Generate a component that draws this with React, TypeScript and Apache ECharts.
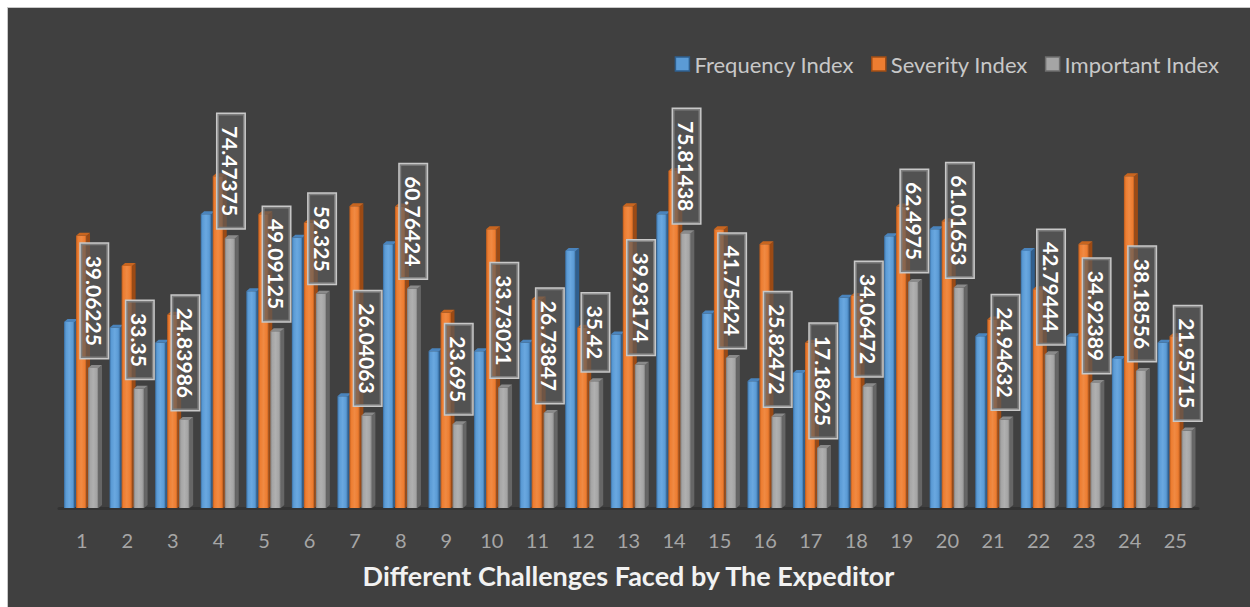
import React, { useEffect, useRef } from "react";
import * as echarts from "echarts";

const categories = ["1","2","3","4","5","6","7","8","9","10","11","12","13","14","15","16","17","18","19","20","21","22","23","24","25"];
const frequencyIndex = [51.6, 50.0, 45.9, 81.0, 60.0, 74.6, 31.3, 72.8, 43.6, 43.6, 45.9, 71.0, 48.2, 81.0, 53.9, 35.4, 37.7, 58.2, 75.0, 76.9, 47.7, 71.0, 47.7, 41.5, 45.9];
const severityIndex = [75.1, 66.9, 53.6, 91.4, 81.0, 78.7, 83.2, 83.1, 54.1, 76.9, 57.7, 50.0, 83.2, 92.8, 76.9, 72.8, 45.9, 58.7, 83.1, 79.1, 52.3, 60.5, 72.8, 91.4, 47.7];
const importantIndex = [39.06225, 33.35, 24.83986, 74.47375, 49.09125, 59.325, 26.04063, 60.76424, 23.695, 33.73021, 26.73847, 35.42, 39.93174, 75.81438, 41.75424, 25.82472, 17.18625, 34.06472, 62.4975, 61.01653, 24.94632, 42.79444, 34.92389, 38.18556, 21.95715];
const seriesNames = ["Frequency Index", "Severity Index", "Important Index"];
const axisTitle = "Different Challenges Faced by The Expeditor";

const palettes = [
  { main: "#5b9bd5", light: "#6aa8e0", dark: "#3a6fa3", side: "#2f5f8f", top: "#4a84bd", legendBorder: "#2e5f8e" },
  { main: "#ed7d31", light: "#f08a43", dark: "#b85a1c", side: "#9c4a14", top: "#c8651f", legendBorder: "#a14d15" },
  { main: "#a5a5a5", light: "#b0b0b0", dark: "#7c7c7c", side: "#666666", top: "#8a8a8a", legendBorder: "#6e6e6e" },
];
const offsets = [-12.5, -0.5, 11.5];
const FACE_W = 10.5;
const DEPTH_X = 3.5;
const DEPTH_Y = 3;

function bar3D(p: any, offset: number) {
  return (params: any, api: any) => {
    const idx = api.value(0);
    const v = api.value(1);
    const base = api.coord([idx, 0]);
    const top = api.coord([idx, v]);
    const cx = base[0] + offset;
    const x0 = cx - FACE_W / 2;
    const x1 = cx + FACE_W / 2;
    const yTop = top[1] + DEPTH_Y;
    const yBot = base[1];
    return {
      type: "group",
      children: [
        {
          type: "polygon",
          shape: { points: [[x1, yTop], [x1 + DEPTH_X, yTop - DEPTH_Y], [x1 + DEPTH_X, yBot - DEPTH_Y], [x1, yBot]] },
          style: { fill: p.side },
        },
        {
          type: "rect",
          shape: { x: x0, y: yTop, width: FACE_W, height: yBot - yTop },
          style: {
            fill: {
              type: "linear", x: 0, y: 0, x2: 1, y2: 0,
              colorStops: [
                { offset: 0, color: p.dark },
                { offset: 0.18, color: p.main },
                { offset: 0.5, color: p.light },
                { offset: 0.82, color: p.main },
                { offset: 1, color: p.dark },
              ],
            },
          },
        },
        {
          type: "polygon",
          shape: { points: [[x0, yTop], [x0 + DEPTH_X, yTop - DEPTH_Y], [x1 + DEPTH_X, yTop - DEPTH_Y], [x1, yTop]] },
          style: { fill: p.top },
        },
      ],
    };
  };
}

function labelItem(params: any, api: any) {
  const idx = api.value(0);
  const v = api.value(1);
  const top = api.coord([idx, v]);
  const cx = top[0] + offsets[2] + 1;
  return {
    type: "text",
    x: cx,
    y: top[1] - 7,
    rotation: -Math.PI / 2,
    style: {
      text: String(importantIndex[idx]),
      fill: "#ffffff",
      font: "bold 21px Lato",
      align: "right",
      verticalAlign: "middle",
      backgroundColor: "rgba(92,92,92,0.68)",
      borderColor: "#c8c8c8",
      borderWidth: 1.5,
      padding: [3, 12, 3, 12],
      boxShadowBlur: 10,
      boxShadowColor: "rgba(0,0,0,0.45)",
      boxShadowOffsetX: 3,
      boxShadowOffsetY: 3,
    },
  };
}

export default function App() {
  const ref = useRef<HTMLDivElement>(null);
  useEffect(() => {
    if (!ref.current) return;
    const chart = echarts.init(ref.current, undefined, { renderer: "svg" });
    const valueSets = [frequencyIndex, severityIndex, importantIndex];
    const series: any[] = seriesNames.map((name, i) => ({
      type: "custom",
      name,
      renderItem: bar3D(palettes[i], offsets[i]),
      itemStyle: { color: palettes[i].main },
      data: valueSets[i].map((v, k) => [k, v]),
      z: 2,
    }));
    series.push({
      type: "custom",
      name: "labels",
      renderItem: labelItem,
      data: importantIndex.map((v, k) => [k, v]),
      z: 10,
      silent: true,
    });
    chart.setOption({
      animation: false,
      backgroundColor: "#404040",
      textStyle: { fontFamily: "Lato" },
      legend: {
        right: 29,
        top: 40,
        icon: "rect",
        itemWidth: 14,
        itemHeight: 14,
        itemGap: 17,
        textStyle: { color: "#c8c8c8", fontSize: 22, fontFamily: "Lato" },
        data: seriesNames.map((n, i) => ({
          name: n,
          itemStyle: { color: palettes[i].main, borderColor: palettes[i].legendBorder, borderWidth: 1.5 },
        })),
      },
      grid: { left: 51, right: 55, top: 97, bottom: 102 },
      xAxis: {
        type: "category",
        data: categories,
        boundaryGap: true,
        axisLine: { show: true, lineStyle: { color: "#333333", width: 3 } },
        axisTick: { show: false },
        axisLabel: { color: "#a6a6a6", fontSize: 20, fontFamily: "Lato", margin: 22 },
        name: axisTitle,
        nameLocation: "middle",
        nameGap: 54,
        nameTextStyle: { color: "#f2f2f2", fontSize: 27, fontWeight: "bold", fontFamily: "Lato" },
      },
      yAxis: {
        type: "value",
        min: 0,
        max: 110,
        show: false,
        splitLine: { show: false },
      },
      series,
    });
    return () => chart.dispose();
  }, []);
  return (
    <div
      style={{
        position: "fixed",
        left: 7,
        top: 7,
        width: 1247,
        height: 604,
        border: "1px solid #c8c8c8",
        boxSizing: "border-box",
        background: "#404040",
      }}
    >
      <div ref={ref} style={{ width: 1245, height: 602 }} />
    </div>
  );
}
